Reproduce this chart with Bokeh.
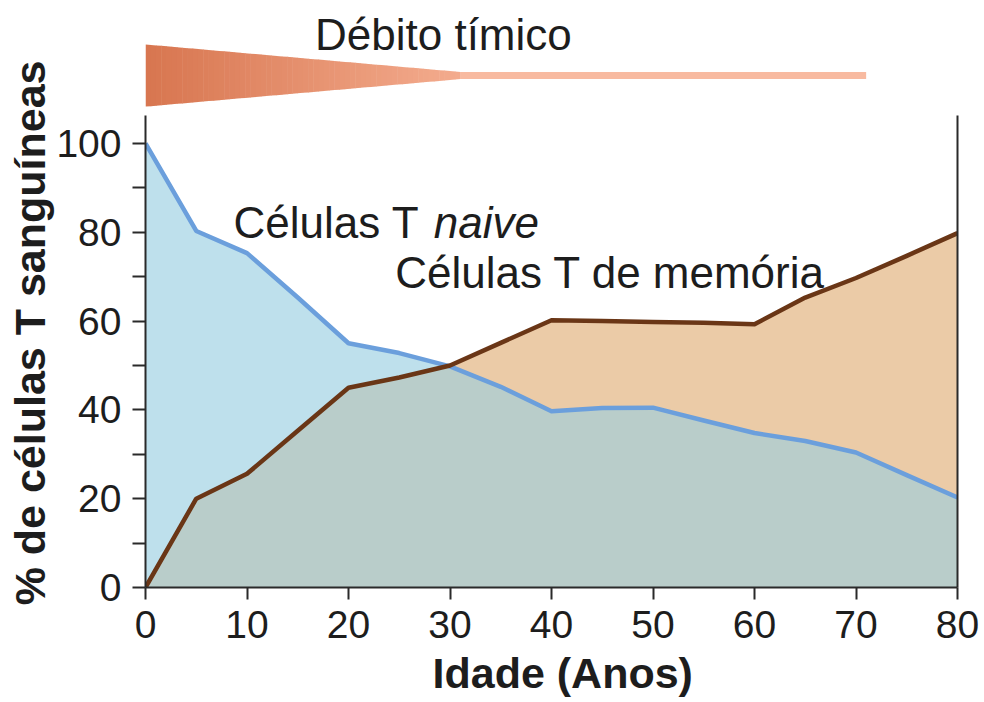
import numpy as np
from bokeh.plotting import figure
from bokeh.models import Range1d, FixedTicker, LinearAxis, Title
from bokeh.core.properties import value
from bokeh.embed import file_html
from bokeh.resources import INLINE

# ---- data ----
ages = [0, 5, 10, 15, 20, 25, 30, 35, 40, 45, 50, 55, 60, 65, 70, 75, 80]
naive = [100, 80.3, 75.3, 65.3, 55.0, 52.8, 49.8, 45.2, 39.7, 40.4, 40.5, 37.6, 34.8, 33.0, 30.4, 25.3, 20.3]
memory = [0, 20.0, 25.6, 35.3, 45.0, 47.3, 50.0, 55.1, 60.2, 60.0, 59.8, 59.6, 59.3, 65.3, 69.7, 74.7, 79.8]
x_ticks = [0, 10, 20, 30, 40, 50, 60, 70, 80]
y_ticks = [0, 20, 40, 60, 80, 100]
y_minor = [10, 30, 50, 70, 90]

# thymic output (relative), decreasing then constant
thymic_ages = [0, 31, 71]
thymic_level = [1.0, 0.115, 0.115]

FONT = "Liberation Sans"
TXT = "#1d1d1d"
AX = "#2a2a2a"

p = figure(width=984, height=702, output_backend="svg", toolbar_location=None,
           x_range=Range1d(0, 80), y_range=Range1d(0, 132.2),
           min_border_left=145, min_border_right=27, min_border_top=0,
           min_border_bottom=115)
p.outline_line_color = None
p.xgrid.visible = False
p.ygrid.visible = False
p.background_fill_color = "white"

# ---- fills ----
a = np.array(ages, dtype=float)
n = np.array(naive, dtype=float)
m = np.array(memory, dtype=float)
p.varea(x=a, y1=0, y2=m, fill_color="#EBCBA7")
p.varea(x=a, y1=0, y2=n, fill_color="#BEE0EC")
p.varea(x=a, y1=0, y2=np.minimum(n, m), fill_color="#B9CDCA")

# ---- lines ----
p.line(a, n, line_color="#6B9FDC", line_width=4.5, line_join="round")
p.line(a, m, line_color="#6A3616", line_width=4.5, line_join="round")

# ---- thymic output wedge ----
center = 115.3
half_max = 7.0
t_end = thymic_ages[-1]
taper_end = thymic_ages[1]
xs_edges = np.linspace(0, taper_end, 61)
c0 = np.array([216, 118, 80])
c1 = np.array([244, 172, 142])
xs, ys, cols = [], [], []
for i in range(len(xs_edges) - 1):
    x0, x1 = xs_edges[i], xs_edges[i + 1]
    h0 = np.interp(x0, thymic_ages, thymic_level) * half_max
    h1 = np.interp(x1, thymic_ages, thymic_level) * half_max
    xs.append([x0, x1 + 0.05, x1 + 0.05, x0])
    ys.append([center - h0, center - h1, center + h1, center + h0])
    f = (x0 + x1) / 2 / taper_end
    c = (c0 * (1 - f) + c1 * f).astype(int)
    cols.append("#%02x%02x%02x" % tuple(c))
hb = thymic_level[-1] * half_max
xs.append([taper_end, t_end, t_end, taper_end])
ys.append([center - hb, center - hb, center + hb, center + hb])
cols.append("#F8BAA0")
p.patches(xs, ys, fill_color=cols, line_color=None)

# ---- texts ----
FS = "44px"
p.text(x=[16.7], y=[124.6], text=["Débito tímico"], text_font=value(FONT),
       text_font_size=FS, text_color=TXT, text_baseline="alphabetic")
p.text(x=[8.67], y=[82.3], text=["Células T"], text_font=value(FONT),
       text_font_size=FS, text_color=TXT, text_baseline="alphabetic")
p.text(x=[28.4], y=[82.3], text=["naive"], text_font=value(FONT),
       text_font_size=FS, text_font_style="italic", text_color=TXT,
       text_baseline="alphabetic")
p.text(x=[24.6], y=[71.0], text=["Células T de memória"], text_font=value(FONT),
       text_font_size=FS, text_color=TXT, text_baseline="alphabetic")

# ---- axes ----
xa = p.xaxis[0]
xa.ticker = FixedTicker(ticks=x_ticks)
ya = p.yaxis[0]
ya.ticker = FixedTicker(ticks=y_ticks, minor_ticks=y_minor)
ya.bounds = (0, 106.3)

for ax in (xa, ya):
    ax.axis_line_color = AX
    ax.axis_line_width = 2
    ax.major_tick_line_color = AX
    ax.major_tick_line_width = 2
    ax.minor_tick_line_color = AX
    ax.minor_tick_line_width = 2
    ax.major_tick_in = 0
    ax.minor_tick_in = 0
    ax.major_label_text_font = FONT
    ax.major_label_text_font_size = "39px"
    ax.major_label_text_color = TXT
xa.major_tick_out = 12
xa.minor_tick_out = 0
ya.major_tick_out = 13
ya.minor_tick_out = 13
xa.major_label_standoff = 11
ya.major_label_standoff = 11

ra = LinearAxis(ticker=FixedTicker(ticks=[]), bounds=(0, 106.3),
                axis_line_color=AX, axis_line_width=2,
                major_tick_out=0, major_tick_in=0, minor_tick_out=0,
                minor_tick_in=0, major_label_standoff=0,
                major_label_text_font_size="0px")
p.add_layout(ra, "right")

# axis titles
p.add_layout(Title(text="Idade (Anos)", align="left", offset=287,
                   text_font=FONT, text_font_size="43px",
                   text_font_style="bold", text_color=TXT, standoff=12),
             "below")
p.add_layout(Title(text="% de células T sanguíneas", align="right", offset=60,
                   text_font=FONT, text_font_size="43px",
                   text_font_style="bold", text_color=TXT, standoff=0),
             "left")

open("out.html", "w").write(file_html(p, INLINE))
